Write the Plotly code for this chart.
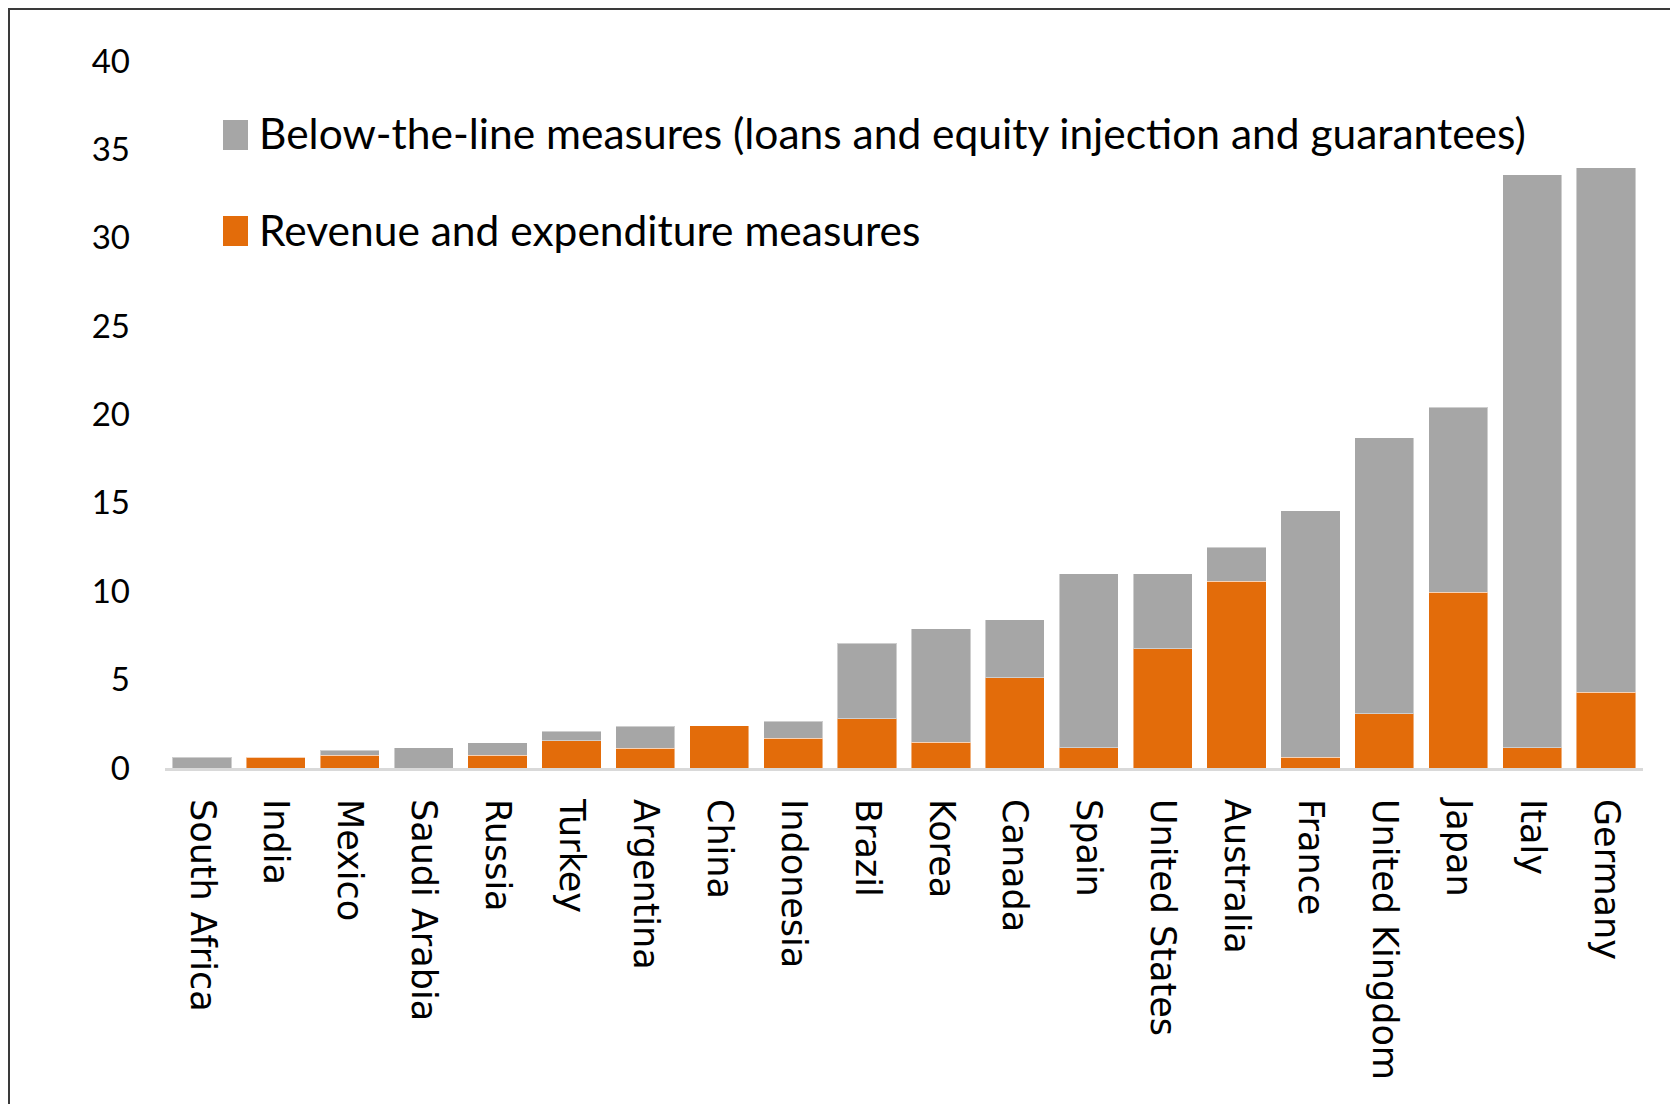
import plotly.graph_objects as go

countries = ["South Africa", "India", "Mexico", "Saudi Arabia", "Russia", "Turkey",
             "Argentina", "China", "Indonesia", "Brazil", "Korea", "Canada", "Spain",
             "United States", "Australia", "France", "United Kingdom", "Japan", "Italy", "Germany"]
revenue = [0.0, 0.6, 0.72, 0.0, 0.72, 1.55, 1.13, 2.38, 1.68, 2.8, 1.45, 5.12, 1.15,
           6.75, 10.58, 0.6, 3.08, 9.95, 1.15, 4.3]
below_line = [0.6, 0.0, 0.28, 1.15, 0.7, 0.54, 1.24, 0.0, 0.96, 4.25, 6.42, 3.28, 9.85,
              4.25, 1.92, 13.95, 15.6, 10.45, 32.42, 29.67]

series_names = ["Revenue and expenditure measures",
                "Below-the-line measures (loans and equity injection and guarantees)"]
colors = {"rev": "#e36c0a", "btl": "#a6a6a6"}

fig = go.Figure()
fig.add_trace(go.Bar(x=countries, y=revenue, name=series_names[0],
                     marker=dict(color=colors["rev"], line=dict(color="rgba(255,255,255,0.45)", width=1)),
                     showlegend=False))
fig.add_trace(go.Bar(x=countries, y=below_line, name=series_names[1],
                     marker=dict(color=colors["btl"], line=dict(color="rgba(255,255,255,0.45)", width=1)),
                     showlegend=False))

# page body margin offset (screen px = figure px + OFF)
OFF = 8
W, H = 1678, 1104
# target plot area in screen pixels
SX0, SX1, SY0, SY1 = 165, 1643, 61, 768
L, T = SX0 - OFF, SY0 - OFF
R = W - (SX1 - OFF)
B = H - (SY1 - OFF)
pw, ph = W - L - R, H - T - B

def px(x):  # screen x -> paper
    return (x - SX0) / pw

def py(y):  # screen y -> paper
    return (SY1 - y) / ph

shapes = []
# figure border
shapes.append(dict(type="rect", xref="paper", yref="paper",
                   x0=px(9), x1=px(1720), y0=py(1140), y1=py(9),
                   line=dict(color="#3a3a3a", width=2), fillcolor="rgba(0,0,0,0)", layer="below"))
# custom legend
annotations = []
legend_items = [(series_names[1], colors["btl"], 135), (series_names[0], colors["rev"], 231)]
for name, col, cy in legend_items:
    shapes.append(dict(type="rect", xref="paper", yref="paper",
                       x0=px(223), x1=px(248), y0=py(cy + 15), y1=py(cy - 15),
                       line=dict(width=0), fillcolor=col))
    annotations.append(dict(xref="paper", yref="paper", x=px(257), y=py(cy - 2),
                            xanchor="left", yanchor="middle", showarrow=False, text=name,
                            font=dict(family="Lato", size=42.5, color="#000000")))

fig.update_layout(
    barmode="stack",
    bargap=0.2,
    width=W, height=H,
    margin=dict(l=L, r=R, t=T, b=B),
    paper_bgcolor="white", plot_bgcolor="white",
    shapes=shapes, annotations=annotations,
    xaxis=dict(showgrid=False, showline=True, linecolor="#d9d9d9", linewidth=3,
               tickangle=90, ticks="", ticklabelstandoff=21,
               tickfont=dict(family="DejaVu Sans", size=35, color="#000000")),
    yaxis=dict(range=[0, 40], dtick=5, showgrid=False, zeroline=False, showline=False,
               ticks="", ticklabelstandoff=34,
               tickfont=dict(family="Lato", size=33, color="#000000")),
)

fig.write_html("out.html")
